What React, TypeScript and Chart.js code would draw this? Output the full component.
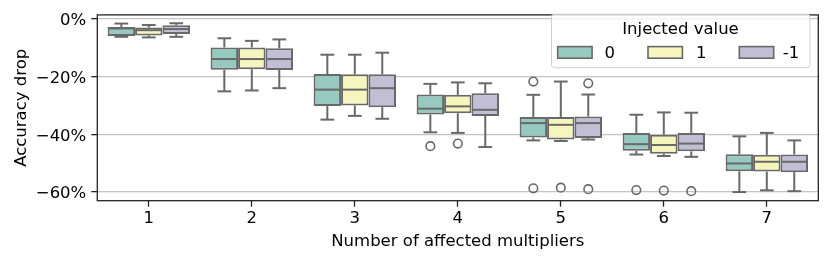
import React, { useEffect, useRef } from 'react';
import { Chart, registerables } from 'chart.js';

Chart.register(...registerables);

const categories = ['1', '2', '3', '4', '5', '6', '7'];
const seriesNames = ['0', '1', '-1'];
const yTicks = [0, -20, -40, -60];

// [lower whisker, Q1, median, Q3, upper whisker] per category (percent)
const boxesInjected0: number[][] = [
  [-6.2, -5.9, -3.3, -2.8, -1.6],
  [-25.1, -17.6, -13.9, -9.9, -6.7],
  [-34.9, -30.2, -24.5, -19.1, -12.4],
  [-39.3, -33.1, -31.1, -26.2, -22.5],
  [-42.1, -41.1, -36.1, -34.0, -26.3],
  [-47.0, -45.7, -43.4, -39.5, -33.2],
  [-60.0, -52.8, -50.1, -46.9, -40.7],
];
const boxesInjected1: number[][] = [
  [-6.4, -5.7, -3.9, -3.0, -2.1],
  [-24.8, -17.4, -13.9, -9.9, -7.6],
  [-33.6, -30.0, -24.5, -19.2, -12.4],
  [-39.5, -32.7, -30.3, -26.3, -22.0],
  [-42.3, -41.8, -36.7, -34.0, -21.7],
  [-47.5, -46.7, -43.7, -40.1, -32.4],
  [-59.4, -52.9, -49.5, -47.1, -39.5],
];
const boxesInjectedMinus1: number[][] = [
  [-6.2, -5.2, -3.5, -2.2, -1.5],
  [-24.0, -17.7, -13.9, -10.2, -7.1],
  [-34.6, -30.6, -24.0, -19.2, -11.7],
  [-44.4, -33.6, -31.5, -25.8, -22.3],
  [-41.8, -41.3, -36.1, -33.8, -26.2],
  [-47.8, -45.9, -43.2, -39.5, -32.5],
  [-59.7, -53.1, -49.5, -47.0, -42.1],
];

const outliersInjected0: number[][] = [[], [], [], [-44.1], [-21.7, -58.7], [-59.3], []];
const outliersInjected1: number[][] = [[], [], [], [-43.2], [-58.5], [-59.5], []];
const outliersInjectedMinus1: number[][] = [[], [], [], [], [-22.3, -59.0], [-59.7], []];

const allBoxes = [boxesInjected0, boxesInjected1, boxesInjectedMinus1];
const allOutliers = [outliersInjected0, outliersInjected1, outliersInjectedMinus1];

const fillColors = ['rgb(150,202,193)', 'rgb(245,245,189)', 'rgb(193,190,214)'];
const lineColor = '#696969';
const FONT = "'DejaVu Sans', sans-serif";
const FS = 16.5;

const boxExtrasPlugin = {
  id: 'boxExtras',
  afterDatasetsDraw(chart: any) {
    const ctx = chart.ctx;
    const y = chart.scales.y;
    ctx.save();
    ctx.strokeStyle = lineColor;
    ctx.lineWidth = 2;
    ctx.lineCap = 'butt';
    const line = (x1: number, y1: number, x2: number, y2: number) => {
      ctx.beginPath();
      ctx.moveTo(x1, y1);
      ctx.lineTo(x2, y2);
      ctx.stroke();
    };
    allBoxes.forEach((boxes, di) => {
      const meta = chart.getDatasetMeta(di);
      meta.data.forEach((el: any, j: number) => {
        const [lo, q1, med, q3, hi] = boxes[j];
        const x = el.x;
        const w = el.width;
        const pLo = y.getPixelForValue(lo);
        const pQ1 = y.getPixelForValue(q1);
        const pMed = y.getPixelForValue(med);
        const pQ3 = y.getPixelForValue(q3);
        const pHi = y.getPixelForValue(hi);
        line(x, pQ1, x, pLo);
        line(x, pQ3, x, pHi);
        line(x - w / 4, pLo, x + w / 4, pLo);
        line(x - w / 4, pHi, x + w / 4, pHi);
        line(x - w / 2 + 1, pMed, x + w / 2 - 1, pMed);
        ctx.lineWidth = 1.6;
        allOutliers[di][j].forEach((v) => {
          ctx.beginPath();
          ctx.arc(x, y.getPixelForValue(v), 4.3, 0, Math.PI * 2);
          ctx.stroke();
        });
        ctx.lineWidth = 2;
      });
    });
    ctx.restore();
  },
  afterDraw(chart: any) {
    const ctx = chart.ctx;
    const a = chart.chartArea;
    ctx.save();
    // spines
    ctx.strokeStyle = '#222';
    ctx.lineWidth = 1.3;
    ctx.strokeRect(a.left, a.top, a.right - a.left, a.bottom - a.top);

    // legend
    const R = a.right;
    const T = a.top;
    const fx = R - 266.8;
    const fy = T - 0.7;
    const fw = 258.5;
    const fh = 53.5;
    ctx.beginPath();
    ctx.roundRect(fx, fy, fw, fh, 3);
    ctx.fillStyle = 'rgba(255,255,255,0.8)';
    ctx.fill();
    ctx.strokeStyle = '#d0d0d0';
    ctx.lineWidth = 1;
    ctx.stroke();

    ctx.fillStyle = '#000';
    ctx.font = `${FS}px ${FONT}`;
    ctx.textAlign = 'center';
    ctx.textBaseline = 'alphabetic';
    ctx.fillText('Injected value', fx + 129, T + 19.3);

    const patchX = [R - 260.6, R - 170.3, R - 79];
    const labelX = [R - 213.8, R - 122.3, R - 35.5];
    ctx.textAlign = 'left';
    seriesNames.forEach((name, i) => {
      ctx.fillStyle = fillColors[i];
      ctx.fillRect(patchX[i], T + 31.7, 34.4, 11.6);
      ctx.strokeStyle = lineColor;
      ctx.lineWidth = 1.6;
      ctx.strokeRect(patchX[i], T + 31.7, 34.4, 11.6);
      ctx.fillStyle = '#000';
      ctx.fillText(name, labelX[i], T + 43.3);
    });
    ctx.restore();
  },
};

export default function App() {
  const canvasRef = useRef<HTMLCanvasElement>(null);

  useEffect(() => {
    const canvas = canvasRef.current;
    if (!canvas) return;
    const chart = new Chart(canvas, {
      type: 'bar',
      data: {
        labels: categories,
        datasets: allBoxes.map((boxes, i) => ({
          label: seriesNames[i],
          data: boxes.map((b) => [b[1], b[3]] as [number, number]),
          backgroundColor: fillColors[i],
          borderColor: lineColor,
          borderWidth: 2,
          borderSkipped: false,
          barPercentage: 1,
          categoryPercentage: 0.8,
        })),
      },
      options: {
        responsive: false,
        animation: false,
        events: [],
        layout: { padding: { top: 14, right: 12.7, bottom: 0, left: 0 } },
        plugins: {
          legend: { display: false },
          tooltip: { enabled: false },
        },
        scales: {
          x: {
            type: 'category',
            offset: true,
            grid: {
              offset: false,
              drawOnChartArea: false,
              drawTicks: true,
              tickLength: 6,
              tickColor: '#222',
              tickWidth: 1.3,
            },
            border: { display: false },
            ticks: {
              color: '#000',
              font: { family: FONT, size: FS },
              padding: 2,
              maxRotation: 0,
            },
            title: {
              display: true,
              text: 'Number of affected multipliers',
              color: '#000',
              font: { family: FONT, size: FS },
              padding: { top: 0, bottom: 12 },
            },
            afterFit: (scale: any) => {
              scale.height = 63.3;
            },
          },
          y: {
            type: 'linear',
            min: -63,
            max: 1.4,
            afterBuildTicks: (scale: any) => {
              scale.ticks = yTicks.map((v) => ({ value: v }));
            },
            grid: {
              color: '#c4c4c4',
              lineWidth: 1.3,
              drawTicks: true,
              tickLength: 6,
              tickColor: '#222',
              tickWidth: 1.3,
            },
            border: { display: false },
            ticks: {
              color: '#000',
              font: { family: FONT, size: FS },
              padding: 5,
              labelOffset: 2,
              callback: (v: any) => (Number(v) < 0 ? '\u2212' : '') + Math.abs(Number(v)) + '%',
            },
            title: {
              display: true,
              text: 'Accuracy drop',
              color: '#000',
              font: { family: FONT, size: FS },
              padding: { top: 12, bottom: 0 },
            },
            afterFit: (scale: any) => {
              scale.width = 97.3;
            },
          },
        },
      },
      plugins: [boxExtrasPlugin],
    });
    return () => chart.destroy();
  }, []);

  return (
    <div style={{ position: 'fixed', left: 0, top: 0, width: 831, height: 264, background: '#fff' }}>
      <canvas ref={canvasRef} width={831} height={264} style={{ width: 831, height: 264 }} />
    </div>
  );
}
